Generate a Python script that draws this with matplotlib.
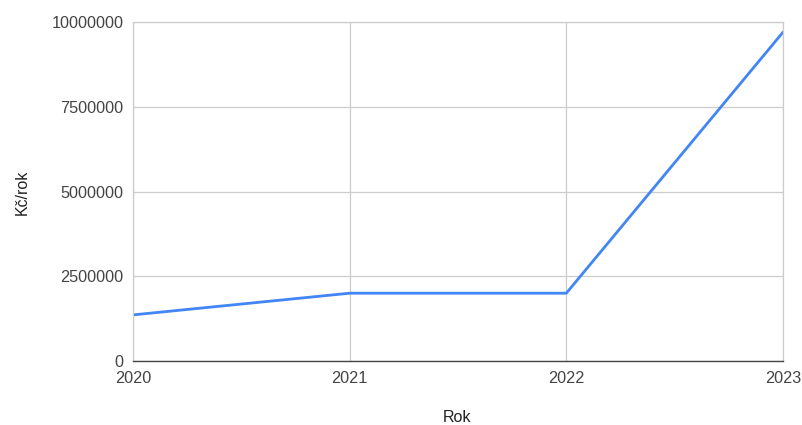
import matplotlib.pyplot as plt

plt.rcParams['font.family'] = ['Liberation Sans', 'DejaVu Sans']

roky = [2020, 2021, 2022, 2023]
castky = [1360000, 2000000, 2000000, 9700000]
y_ticks = [0, 2500000, 5000000, 7500000, 10000000]

fig = plt.figure(figsize=(8.03, 4.25), dpi=100)
ax = fig.add_axes([133 / 803, 1 - 361 / 425, (783 - 133) / 803, (361 - 22) / 425])

ax.plot(roky, castky, color='#4285F4', linewidth=2.0, solid_capstyle='round')

ax.set_xlim(2020, 2023)
ax.set_ylim(0, 10000000)
ax.set_xticks(roky)
ax.set_xticklabels([str(r) for r in roky])
ax.set_yticks(y_ticks)
ax.set_yticklabels([str(v) for v in y_ticks])

ax.grid(True, color='#cccccc', linewidth=0.9)
ax.set_axisbelow(True)
for side in ['top', 'right', 'left']:
    ax.spines[side].set_color('#cccccc')
    ax.spines[side].set_linewidth(0.9)
ax.spines['bottom'].set_color('#444444')
ax.spines['bottom'].set_linewidth(1.0)
ax.tick_params(length=0, labelsize=11.7, labelcolor='#444444')
ax.tick_params(axis='x', pad=7.5)
ax.tick_params(axis='y', pad=7)

fig.text(22 / 803, 1 - 192 / 425, 'Kč/rok', rotation=90, ha='center', va='center',
         fontsize=11.5, color='#222222')
fig.text(457 / 803, 1 - 418 / 425, 'Rok', ha='center', va='center',
         fontsize=11.5, color='#222222')

fig.savefig('out.png', dpi=100)
